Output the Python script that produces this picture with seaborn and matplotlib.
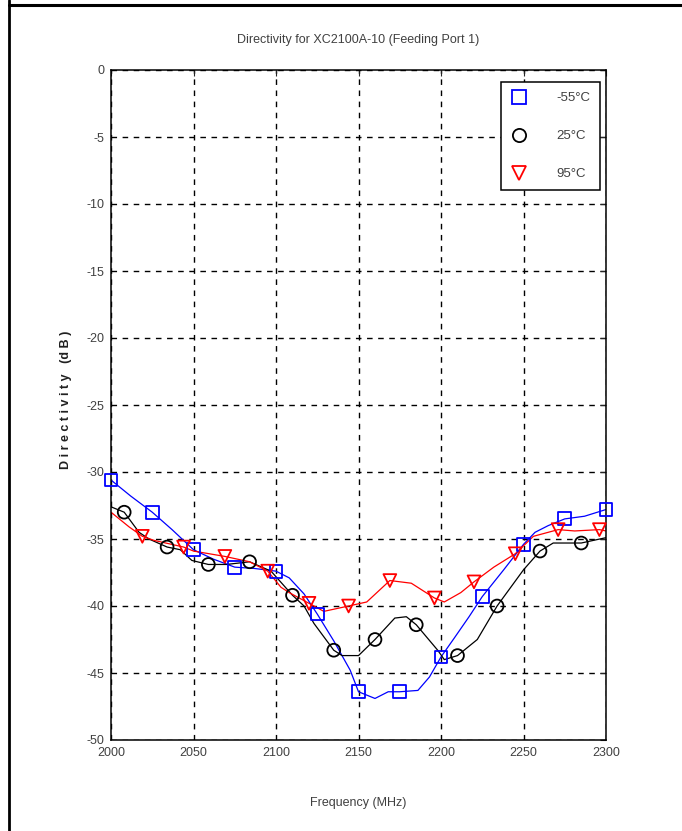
import matplotlib
matplotlib.use("Agg")
import matplotlib.pyplot as plt
from matplotlib.lines import Line2D
import seaborn as sns

# Frequency sweep of directivity at three temperatures (MHz, dB)
# Fitted curves
blue_f = [2000, 2012, 2025, 2037, 2050, 2062, 2075, 2087, 2100, 2108, 2117, 2125, 2135,
          2145, 2150, 2160, 2168, 2175, 2186, 2193, 2200, 2208, 2217, 2225, 2238, 2250,
          2257, 2265, 2275, 2287, 2300]
blue_v = [-30.6, -31.8, -33.0, -34.3, -35.8, -36.5, -37.1, -37.2, -37.4, -37.9, -39.1, -40.6,
          -42.6, -44.8, -46.4, -46.9, -46.4, -46.4, -46.3, -45.3, -43.8, -42.4, -40.8, -39.3,
          -37.3, -35.4, -34.5, -34.0, -33.5, -33.3, -32.8]

black_f = [2000, 2008, 2017, 2023, 2034, 2042, 2049, 2059, 2070, 2084, 2097, 2110, 2117,
           2123, 2135, 2140, 2150, 2160, 2172, 2179, 2185, 2198, 2202, 2210, 2222, 2234,
           2250, 2260, 2268, 2285, 2300]
black_v = [-32.6, -33.0, -34.5, -35.0, -35.6, -35.8, -36.6, -36.9, -36.9, -36.7, -37.4, -39.2,
           -40.0, -41.3, -43.3, -43.7, -43.7, -42.5, -40.9, -40.8, -41.4, -43.3, -44.0, -43.7,
           -42.5, -40.0, -37.3, -35.9, -35.3, -35.3, -34.9]

red_f = [2000, 2011, 2019, 2026, 2044, 2050, 2069, 2084, 2095, 2103, 2108, 2120, 2129, 2144,
         2155, 2169, 2182, 2196, 2202, 2212, 2220, 2232, 2245, 2256, 2271, 2281, 2296, 2300]
red_v = [-33.0, -34.1, -34.8, -35.1, -35.6, -35.9, -36.3, -36.7, -37.4, -38.6, -39.0, -39.8,
         -40.4, -40.0, -39.7, -38.1, -38.3, -39.4, -39.7, -39.0, -38.2, -37.1, -36.1, -34.8,
         -34.3, -34.4, -34.3, -34.4]

# Measured points
blue_mf = [2000, 2025, 2050, 2075, 2100, 2125, 2150, 2175, 2200, 2225, 2250, 2275, 2300]
blue_mv = [-30.6, -33.0, -35.8, -37.1, -37.4, -40.6, -46.4, -46.4, -43.8, -39.3, -35.4, -33.5, -32.8]

black_mf = [2008, 2034, 2059, 2084, 2110, 2135, 2160, 2185, 2210, 2234, 2260, 2285]
black_mv = [-33.0, -35.6, -36.9, -36.7, -39.2, -43.3, -42.5, -41.4, -43.7, -40.0, -35.9, -35.3]

red_mf = [2019, 2044, 2069, 2095, 2120, 2144, 2169, 2196, 2220, 2245, 2271, 2296]
red_mv = [-34.8, -35.6, -36.3, -37.4, -39.8, -40.0, -38.1, -39.4, -38.2, -36.1, -34.3, -34.3]

labels = ["-55\u00b0C", "25\u00b0C", "95\u00b0C"]
colors = ["#0000ff", "#000000", "#ff0000"]
markers = ["s", "o", "v"]

x_ticks = [2000, 2050, 2100, 2150, 2200, 2250, 2300]
y_ticks = [0, -5, -10, -15, -20, -25, -30, -35, -40, -45, -50]

sns.set_style("white")
plt.rcParams["font.family"] = ["Liberation Sans Narrow", "Liberation Sans", "DejaVu Sans"]
text_color = "#404040"

fig = plt.figure(figsize=(6.82, 8.31), dpi=100)
ax = fig.add_axes([111 / 682, 1 - 740 / 831, 495 / 682, 670 / 831])

curves = [(blue_f, blue_v), (black_f, black_v), (red_f, red_v)]
points = [(blue_mf, blue_mv), (black_mf, black_mv), (red_mf, red_mv)]

handles = []
for (cf, cv), (mf, mv), lab, col, mk in zip(curves, points, labels, colors, markers):
    sns.lineplot(x=cf, y=cv, ax=ax, color=col, lw=0.9, sort=False, legend=False)
    sc = sns.scatterplot(x=mf, y=mv, ax=ax, marker=mk, s=85, facecolor="none",
                         edgecolor=col, linewidth=1.3, legend=False, zorder=3)
    handles.append(Line2D([], [], ls="none", marker=mk, markersize=9.5,
                          markerfacecolor="none", markeredgecolor=col,
                          markeredgewidth=1.3, label=lab))
for coll in ax.collections:
    coll.set_clip_on(False)

ax.set_xlim(2000, 2300)
ax.set_ylim(-50, 0)
ax.set_xticks(x_ticks)
ax.set_yticks(y_ticks)
ax.set_xticklabels([str(t) for t in x_ticks])
ax.set_yticklabels([str(t) for t in y_ticks])

ax.grid(True, color="black", linestyle=(0, (4, 4)), linewidth=1.0)
for sp in ax.spines.values():
    sp.set_visible(True)
    sp.set_color("black")
    sp.set_linewidth(1.1)
ax.tick_params(direction="in", length=4, width=0.8, top=True, right=True,
               labelsize=9, labelcolor=text_color, pad=5)

ax.set_xlabel("Frequency (MHz)", fontsize=9, color=text_color)
ax.xaxis.set_label_coords(0.5, -0.085)
ax.set_ylabel("D i r e c t i v i t y   (d B )", fontsize=9, color="#202020",
              fontweight="bold")
ax.yaxis.set_label_coords(-0.079, 0.507)

fig.text(358 / 682, 1 - 40 / 831, "Directivity for XC2100A-10 (Feeding Port 1)",
         ha="center", va="center", fontsize=9, color=text_color)

leg = ax.legend(handles=handles, loc="upper right", bbox_to_anchor=(0.988, 0.982),
                fontsize=9.5, frameon=True, fancybox=False, labelspacing=1.95,
                handletextpad=2.2, borderpad=0.75, borderaxespad=0.0,
                handlelength=1.2, markerfirst=True)
leg.get_frame().set_edgecolor("black")
leg.get_frame().set_linewidth(1.1)
leg.get_frame().set_alpha(1.0)
for t in leg.get_texts():
    t.set_color(text_color)

# page border lines
fig.add_artist(Line2D([9 / 682, 1.0], [1 - 5 / 831, 1 - 5 / 831],
                      transform=fig.transFigure, color="black", lw=2.2))
fig.add_artist(Line2D([9 / 682, 9 / 682], [0.0, 1.0],
                      transform=fig.transFigure, color="black", lw=2.0))

fig.savefig("out.png", dpi=100)
